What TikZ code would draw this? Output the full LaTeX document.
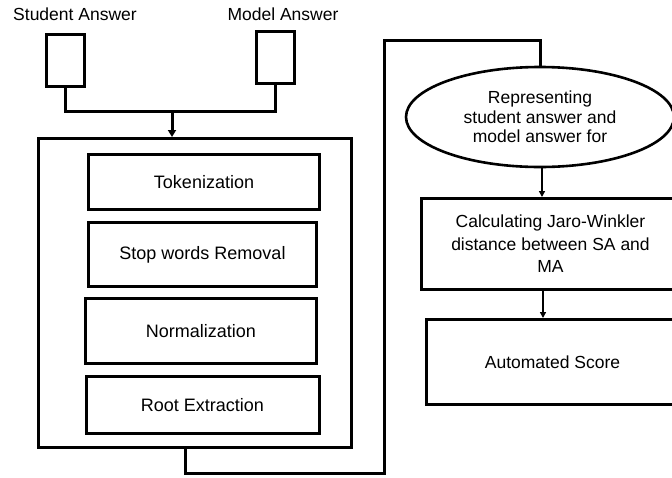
\documentclass[tikz,border=0pt]{standalone}
\usepackage{fontspec}
\setmainfont{Liberation Sans}
\usepackage{tikz}
\usetikzlibrary{positioning, arrows.meta, shapes.geometric, calc}
\tikzset{
  % --- input slots and labels ---
  inslot/.style={draw, line width=3pt, minimum width=38pt, minimum height=52pt,
    inner sep=0pt},
  inlabel/.style={font=\fontsize{17.5}{20}\selectfont, inner sep=0pt},
  % --- preprocessing steps ---
  outerbox/.style={draw, line width=3pt, minimum width=313pt, minimum height=309pt,
    inner sep=0pt},
  stepbox/.style={draw, line width=3pt, minimum width=231pt, inner sep=0pt,
    font=\fontsize{18}{20}\selectfont},
  % --- scoring side ---
  stageoval/.style={draw, ellipse, line width=2.6pt, minimum width=268pt,
    minimum height=100pt, inner sep=0pt, align=center,
    font=\fontsize{17.5}{19.5}\selectfont},
  stagebox/.style={draw, line width=3pt, inner sep=0pt, align=center,
    font=\fontsize{17.5}{22.5}\selectfont},
  % --- connectors ---
  link/.style={line width=3pt, line cap=rect},
  bigarrow/.style={line width=3pt, -{Triangle[length=7pt, width=8pt]}},
  smallarrow/.style={line width=1.4pt, -{Triangle[length=6pt, width=6pt]}},
}

\begin{document}
\begin{tikzpicture}[x=1pt, y=-1pt]
    \useasboundingbox (0,0) rectangle (672,477);
    \clip (0,0) rectangle (672,477);

    % ---- Inputs ----
    \node[inlabel] (salbl) at (75,14) {Student Answer};
    \node[inlabel] (malbl) at (283,14) {Model Answer};
    \node[inslot] (sa) at (65.5,60) {};
    \node[inslot] (ma) at (275,57) {};

    % ---- Preprocessing block ----
    \node[outerbox, anchor=north west] (pre) at (37,137) {};
    \node[stepbox, minimum height=55pt, anchor=north west] (tok) at (87,153) {Tokenization};
    \node[stepbox, minimum height=64pt, below=10pt of tok, xshift=-1.5pt, minimum width=228pt] (stop) {Stop words Removal};
    \node[stepbox, minimum height=65pt, below=9pt of stop, xshift=-1.5pt] (norm) {Normalization};
    \node[stepbox, minimum height=57pt, below=10pt of norm, xshift=1.5pt, minimum width=233pt] (root) {Root Extraction};

    % ---- Scoring stages (right) ----
    \node[stageoval] (rep) at (540,117) {Representing\\student answer and\\model answer for};
    \node[stagebox, minimum width=258pt, minimum height=91pt, anchor=north west] (jw) at (420,197)
      {Calculating Jaro-Winkler\\distance between SA and\\MA};
    \node[stagebox, minimum width=252pt, minimum height=85pt, anchor=north west] (score) at (425,318)
      {Automated Score};

    % ---- Inputs join into the block ----
    \coordinate (join) at (172,111);
    \draw[link] (sa.south) -- (sa.south |- join) -| (ma.south);
    \draw[bigarrow] (join) -- (pre.north -| join);

    % ---- Block loops round to the scoring side ----
    \coordinate (lpa) at (185,473);
    \coordinate (lpb) at (384,40);
    \draw[link] (pre.south -| lpa) -- (lpa) -| (lpb) -| (rep.north);

    \draw[smallarrow] (rep.south -| 542,0) -- (jw.north -| 542,0);
    \draw[smallarrow] (jw.south -| 543,0) -- (score.north -| 543,0);
  \end{tikzpicture}
\end{document}
